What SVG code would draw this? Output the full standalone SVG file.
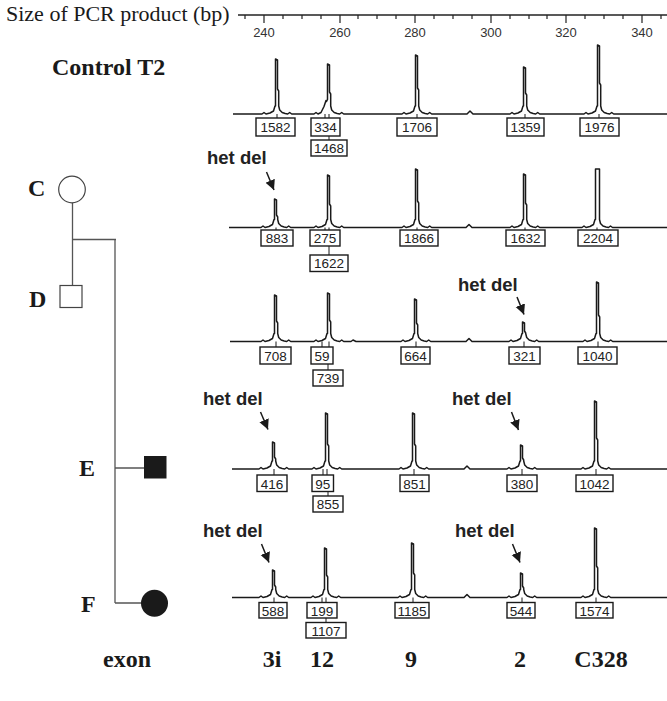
<svg xmlns="http://www.w3.org/2000/svg" width="667" height="701" viewBox="0 0 667 701">
<defs>
<style>
.serif{font-family:"Liberation Serif","Times New Roman",serif;fill:#1a1a1a}
.lbl{font-family:"Liberation Serif","Times New Roman",serif;font-weight:bold;font-size:24px;fill:#1a1a1a}
.ax{font-family:"Liberation Sans",Arial,sans-serif;font-size:13px;fill:#333;text-anchor:middle}
.num{font-family:"Liberation Sans",Arial,sans-serif;font-size:13.5px;fill:#222;text-anchor:middle}
.het{font-family:"Liberation Sans",Arial,sans-serif;font-weight:bold;font-size:18.5px;fill:#222}
.trace{fill:none;stroke:#1a1a1a;stroke-width:1.5;stroke-linejoin:round}
.box{fill:#fff;stroke:#1a1a1a;stroke-width:1.4}
.tk{stroke:#1a1a1a;stroke-width:1}
.ped{fill:none;stroke:#555;stroke-width:1.3}
.arr{stroke:#1a1a1a;stroke-width:1.5;marker-end:url(#ah)}
</style>
<marker id="ah" markerUnits="userSpaceOnUse" markerWidth="12" markerHeight="12" refX="10" refY="5" orient="auto">
<path d="M0,0 L10,5 L0,10 Z" fill="#1a1a1a"/>
</marker>
</defs>
<rect width="667" height="701" fill="#fff"/>

<g id="axis">
<text class="serif" x="6" y="21" font-size="22">Size of PCR product (bp)</text>
<line x1="238" y1="15" x2="667" y2="15" stroke="#222" stroke-width="1.6"/>
<path stroke="#222" stroke-width="1.2" d="M245,15V19 M264,15V23 M283,15V19 M302,15V19 M321,15V19 M340,15V23 M358,15V19 M377,15V19 M396,15V19 M415,15V23 M434,15V19 M453,15V19 M472,15V19 M491,15V23 M510,15V19 M529,15V19 M547,15V19 M566,15V23 M585,15V19 M604,15V19 M623,15V19 M642,15V23 M661,15V19"/>
<text class="ax" x="264" y="36.5">240</text>
<text class="ax" x="340" y="36.5">260</text>
<text class="ax" x="415" y="36.5">280</text>
<text class="ax" x="491" y="36.5">300</text>
<text class="ax" x="566" y="36.5">320</text>
<text class="ax" x="642" y="36.5">340</text>
</g>

<text class="lbl" x="52" y="75">Control T2</text>

<g id="trace-control">
<path class="trace" d="M233,114 L262,114 l2,-1.5 l2,1.5 l4,-1 l3.5,-2 l1.5,-5 l0.5,0 V59 l2,1 V89 l1.2,2 V106 l1,4 l2.5,2.5 l3,1 l2.5,0.5 l2,-1.5 l2,1.5 L314,114 l2,-1.5 l2,1.5 l3,-1.5 l3,-6 l2,-6 l0.5,1 l1,-2 V64 l2,1 V92 l1.2,2 V106 l1,4 l2.5,2.5 l3,1 l2.5,0.5 l2,-1.5 l2,1.5 L402,114 l2,-1.5 l2,1.5 l4,-1 l3.5,-2 l1.5,-5 l0.5,0 V55 l2,1 V88 l1.2,2 V106 l1,4 l2.5,2.5 l3,1 l2.5,0.5 l2,-1.5 l2,1.5 L467,114 l3,-3 l3,3 L510,114 l2,-1.5 l2,1.5 l4,-1 l3.5,-2 l1.5,-5 l0.5,0 V67 l2,1 V93 l1.2,2 V106 l1,4 l2.5,2.5 l3,1 l2.5,0.5 l2,-1.5 l2,1.5 L584,114 l2,-1.5 l2,1.5 l4,-1 l3.5,-2 l1.5,-5 l0.5,0 V45 l2,1 V83 l1.2,2 V106 l1,4 l2.5,2.5 l3,1 l2.5,0.5 l2,-1.5 l2,1.5 L667,114"/>
<path class="tk" d="M277,114V118 M325,114V118 M329,114V118 M329,136V140 M417,114V118 M525,114V118 M599,114V118"/>
<rect class="box" x="256" y="118" width="39" height="18"/><text class="num" x="275.5" y="132">1582</text>
<rect class="box" x="311" y="118" width="29" height="18"/><text class="num" x="325.5" y="132">334</text>
<rect class="box" x="311" y="140" width="36" height="16"/><text class="num" x="329" y="153">1468</text>
<rect class="box" x="397" y="118" width="40" height="18"/><text class="num" x="417" y="132">1706</text>
<rect class="box" x="507" y="118" width="37" height="18"/><text class="num" x="525.5" y="132">1359</text>
<rect class="box" x="580" y="118" width="39" height="18"/><text class="num" x="599.5" y="132">1976</text>
</g>

<g id="trace-C">
<path class="trace" d="M229,227.5 L261,227.5 l2,-1.5 l2,1.5 l4,-1 l3.5,-2 l1.5,-5 l0.5,0 V199 l2,1 V215 l1.2,2 V219.5 l1,4 l2.5,2.5 l3,1 l2.5,0.5 l2,-1.5 l2,1.5 L314,227.5 l2,-1.5 l2,1.5 l4,-1 l3.5,-2 l1.5,-5 l0.5,0 V175 l2,1 V204 l1.2,2 V219.5 l1,4 l2.5,2.5 l3,1 l2.5,0.5 l2,-1.5 l2,1.5 L402,227.5 l2,-1.5 l2,1.5 l4,-1 l3.5,-2 l1.5,-5 l0.5,0 V169 l2,1 V201 l1.2,2 V219.5 l1,4 l2.5,2.5 l3,1 l2.5,0.5 l2,-1.5 l2,1.5 L466,227.5 l3,-3 l3,3 L510,227.5 l2,-1.5 l2,1.5 l4,-1 l3.5,-2 l1.5,-5 l0.5,0 V174 l2,1 V203 l1.2,2 V219.5 l1,4 l2.5,2.5 l3,1 l2.5,0.5 l2,-1.5 l2,1.5 L582,227.5 l2,-1.5 l2,1.5 l4,-1 l3.5,-2 l1.5,-5 l0.5,0 V169 l4,0 V219.5 l1,4 l2.5,2.5 l3,1 l2.5,0.5 l2,-1.5 l2,1.5 L667,227.5"/>
<path class="tk" d="M276,227.5V230 M325,227.5V230 M329,227.5V230 M329,246V255 M417,227.5V230 M525,227.5V230 M597,227.5V230"/>
<rect class="box" x="261" y="230" width="32" height="16"/><text class="num" x="277" y="243">883</text>
<rect class="box" x="310" y="230" width="30" height="16"/><text class="num" x="325" y="243">275</text>
<rect class="box" x="310" y="255" width="38" height="16.5"/><text class="num" x="329" y="268">1622</text>
<rect class="box" x="400" y="230" width="38" height="16"/><text class="num" x="419" y="243">1866</text>
<rect class="box" x="506" y="230" width="39" height="16"/><text class="num" x="525.5" y="243">1632</text>
<rect class="box" x="578" y="230" width="40" height="16"/><text class="num" x="598" y="243">2204</text>
<text class="het" x="207" y="164">het del</text>
</g>

<g id="trace-D">
<path class="trace" d="M230,341.5 L261,341.5 l2,-1.5 l2,1.5 l4,-1 l3.5,-2 l1.5,-5 l0.5,0 V295 l2,1 V321 l1.2,2 V333.5 l1,4 l2.5,2.5 l3,1 l2.5,0.5 l2,-1.5 l2,1.5 L314,341.5 l2,-1.5 l2,1.5 l4,-1 l3.5,-2 l1.5,-5 l0.5,0 V293 l2,1 V320 l1.2,2 V333.5 l1,4 l2.5,2.5 l3,1 l2.5,0.5 l2,-1.5 l2,1.5 L351,341.5 l2,-1.5 l3,1.5 L401,341.5 l2,-1.5 l2,1.5 l4,-1 l3.5,-2 l1.5,-5 l0.5,0 V299 l2,1 V323 l1.2,2 V333.5 l1,4 l2.5,2.5 l3,1 l2.5,0.5 l2,-1.5 l2,1.5 L466,341.5 l3,-3 l3,3 L509,341.5 l2,-1.5 l2,1.5 l4,-1 l3.5,-2 l1.5,-5 l0.5,0 V322 l2,1 V331 l1.2,2 V333.5 l1,4 l2.5,2.5 l3,1 l2.5,0.5 l2,-1.5 l2,1.5 L583,341.5 l2,-1.5 l2,1.5 l4,-1 l3.5,-2 l1.5,-5 l0.5,0 V282 l2,1 V315 l1.2,2 V333.5 l1,4 l2.5,2.5 l3,1 l2.5,0.5 l2,-1.5 l2,1.5 L667,341.5"/>
<path class="tk" d="M276,341.5V347 M322,341.5V347 M329,341.5V347 M328,364V370 M416,341.5V347 M524,341.5V347 M598,341.5V347"/>
<rect class="box" x="260" y="347" width="31" height="17"/><text class="num" x="275.5" y="360.5">708</text>
<rect class="box" x="311" y="347" width="22" height="17"/><text class="num" x="322" y="360.5">59</text>
<rect class="box" x="313" y="370" width="30" height="16"/><text class="num" x="328" y="383">739</text>
<rect class="box" x="401" y="347" width="29" height="17"/><text class="num" x="415.5" y="360.5">664</text>
<rect class="box" x="509" y="347" width="31" height="17"/><text class="num" x="524.5" y="360.5">321</text>
<rect class="box" x="578" y="347" width="39" height="17"/><text class="num" x="597.5" y="360.5">1040</text>
<text class="het" x="458" y="291">het del</text>
</g>

<g id="trace-E">
<path class="trace" d="M232,469 L259,469 l2,-1.5 l2,1.5 l4,-1 l3.5,-2 l1.5,-5 l0.5,0 V442 l2,1 V457 l1.2,2 V461 l1,4 l2.5,2.5 l3,1 l2.5,0.5 l2,-1.5 l2,1.5 L312,469 l2,-1.5 l2,1.5 l4,-1 l3.5,-2 l1.5,-5 l0.5,0 V413 l2,1 V444 l1.2,2 V461 l1,4 l2.5,2.5 l3,1 l2.5,0.5 l2,-1.5 l2,1.5 L399,469 l2,-1.5 l2,1.5 l4,-1 l3.5,-2 l1.5,-5 l0.5,0 V413 l2,1 V444 l1.2,2 V461 l1,4 l2.5,2.5 l3,1 l2.5,0.5 l2,-1.5 l2,1.5 L464,469 l3,-3 l3,3 L507,469 l2,-1.5 l2,1.5 l4,-1 l3.5,-2 l1.5,-5 l0.5,0 V445 l2,1 V458 l1.2,2 V461 l1,4 l2.5,2.5 l3,1 l2.5,0.5 l2,-1.5 l2,1.5 L581,469 l2,-1.5 l2,1.5 l4,-1 l3.5,-2 l1.5,-5 l0.5,0 V401 l2,1 V438 l1.2,2 V461 l1,4 l2.5,2.5 l3,1 l2.5,0.5 l2,-1.5 l2,1.5 L667,469"/>
<path class="tk" d="M274,469V475 M323,469V475 M327,469V475 M328,491.5V496 M414,469V475 M522,469V475 M596,469V475"/>
<rect class="box" x="257" y="475" width="30" height="16.5"/><text class="num" x="272" y="488.5">416</text>
<rect class="box" x="312" y="475" width="21.5" height="16.5"/><text class="num" x="322.7" y="488.5">95</text>
<rect class="box" x="313" y="496" width="30" height="16"/><text class="num" x="328" y="509">855</text>
<rect class="box" x="400" y="475" width="29" height="16.5"/><text class="num" x="414.5" y="488.5">851</text>
<rect class="box" x="507" y="475" width="30" height="16.5"/><text class="num" x="522" y="488.5">380</text>
<rect class="box" x="576" y="475" width="37" height="16.5"/><text class="num" x="594.5" y="488.5">1042</text>
<text class="het" x="203" y="405">het del</text>
<text class="het" x="452" y="405">het del</text>
</g>

<g id="trace-F">
<path class="trace" d="M232,597.5 L259,597.5 l2,-1.5 l2,1.5 l4,-1 l3.5,-2 l1.5,-5 l0.5,0 V570 l2,1 V585 l1.2,2 V589.5 l1,4 l2.5,2.5 l3,1 l2.5,0.5 l2,-1.5 l2,1.5 L311,597.5 l2,-1.5 l2,1.5 l4,-1 l3.5,-2 l1.5,-5 l0.5,0 V548 l2,1 V575 l1.2,2 V589.5 l1,4 l2.5,2.5 l3,1 l2.5,0.5 l2,-1.5 l2,1.5 L398,597.5 l2,-1.5 l2,1.5 l4,-1 l3.5,-2 l1.5,-5 l0.5,0 V543 l2,1 V573 l1.2,2 V589.5 l1,4 l2.5,2.5 l3,1 l2.5,0.5 l2,-1.5 l2,1.5 L464,597.5 l3,-3 l3,3 L507,597.5 l2,-1.5 l2,1.5 l4,-1 l3.5,-2 l1.5,-5 l0.5,0 V573 l2,1 V586 l1.2,2 V589.5 l1,4 l2.5,2.5 l3,1 l2.5,0.5 l2,-1.5 l2,1.5 L581,597.5 l2,-1.5 l2,1.5 l4,-1 l3.5,-2 l1.5,-5 l0.5,0 V528 l2,1 V566 l1.2,2 V589.5 l1,4 l2.5,2.5 l3,1 l2.5,0.5 l2,-1.5 l2,1.5 L667,597.5"/>
<path class="tk" d="M274,597.5V602.5 M322,597.5V602.5 M326,597.5V602.5 M326,618V622.5 M413,597.5V602.5 M522,597.5V602.5 M596,597.5V602.5"/>
<rect class="box" x="259" y="602.5" width="28" height="15.5"/><text class="num" x="273" y="615.5">588</text>
<rect class="box" x="307" y="602.5" width="30" height="15.5"/><text class="num" x="322" y="615.5">199</text>
<rect class="box" x="306" y="622.5" width="40" height="15.5"/><text class="num" x="326" y="635.5">1107</text>
<rect class="box" x="395" y="602.5" width="34" height="15.5"/><text class="num" x="412" y="615.5">1185</text>
<rect class="box" x="507" y="602.5" width="28" height="15.5"/><text class="num" x="521" y="615.5">544</text>
<rect class="box" x="576" y="602.5" width="37" height="15.5"/><text class="num" x="594.5" y="615.5">1574</text>
<text class="het" x="203" y="537">het del</text>
<text class="het" x="455" y="537">het del</text>
</g>

<g id="connectors">
<path class="ped" d="M72.5,202.5 V285 M72.5,239.5 H116 M115,239.5 V603 M115,468 H144 M115,603 H141"/>
<line class="arr" x1="266.5" y1="172" x2="274" y2="190"/>
<line class="arr" x1="517" y1="297" x2="524" y2="314.5"/>
<line class="arr" x1="260.5" y1="412" x2="268" y2="429.5"/>
<line class="arr" x1="511.5" y1="412" x2="518.5" y2="430"/>
<line class="arr" x1="261.5" y1="544" x2="269" y2="562.5"/>
<line class="arr" x1="512.5" y1="544" x2="520" y2="562.5"/>
</g>

<g id="node-C">
<circle cx="72" cy="189.5" r="13.3" fill="#fff" stroke="#444" stroke-width="1.2"/>
<text class="lbl" x="28" y="195.5">C</text>
</g>
<g id="node-D">
<rect x="60" y="285.5" width="22" height="22" fill="#fff" stroke="#444" stroke-width="1.2"/>
<text class="lbl" x="29" y="307">D</text>
</g>
<g id="node-E">
<rect x="144" y="456" width="22.5" height="22.5" fill="#1a1a1a"/>
<text class="lbl" x="79" y="475.5">E</text>
</g>
<g id="node-F">
<circle cx="154.5" cy="603.3" r="13.5" fill="#1a1a1a"/>
<text class="lbl" x="81" y="612">F</text>
</g>

<g id="exon-labels">
<text class="lbl" x="127" y="667" text-anchor="middle">exon</text>
<text class="lbl" x="272" y="667" text-anchor="middle">3i</text>
<text class="lbl" x="322" y="667" text-anchor="middle">12</text>
<text class="lbl" x="411" y="667" text-anchor="middle">9</text>
<text class="lbl" x="520" y="667" text-anchor="middle">2</text>
<text class="lbl" x="601" y="667" text-anchor="middle">C328</text>
</g>
</svg>
